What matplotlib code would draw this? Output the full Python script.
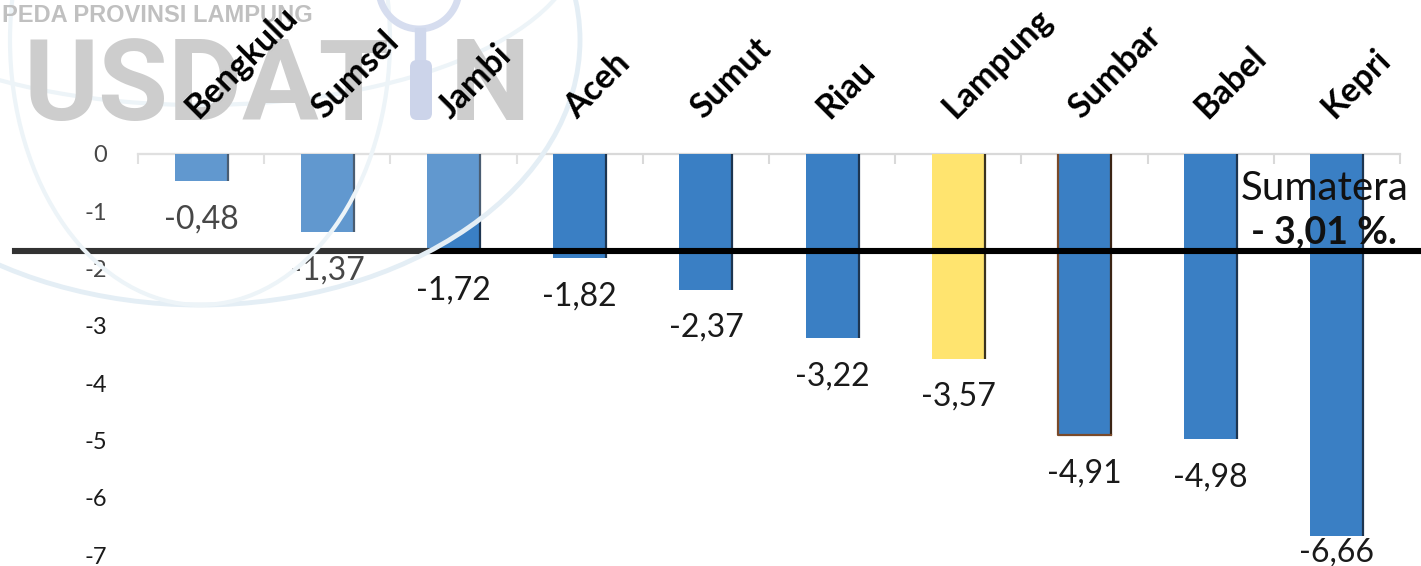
import matplotlib
matplotlib.use('Agg')
import matplotlib.pyplot as plt
import matplotlib.transforms as mtransforms
from matplotlib.patches import Ellipse, Circle, FancyBboxPatch, Rectangle
from matplotlib.lines import Line2D
from matplotlib import font_manager

# Data pertumbuhan ekonomi provinsi di Sumatera (%)
provinsi = ['Bengkulu', 'Sumsel', 'Jambi', 'Aceh', 'Sumut', 'Riau', 'Lampung', 'Sumbar', 'Babel', 'Kepri']
pertumbuhan = [-0.48, -1.37, -1.72, -1.82, -2.37, -3.22, -3.57, -4.91, -4.98, -6.66]
warna = ['#3a7fc4', '#3a7fc4', '#3a7fc4', '#3a7fc4', '#3a7fc4', '#3a7fc4',
         '#ffe46f', '#3a7fc4', '#3a7fc4', '#3a7fc4']
warna_tepi = ['#1d3550', '#1d3550', '#1d3550', '#1d3550', '#1d3550', '#1d3550',
              '#3a3320', '#3b2414', '#1d3550', '#1d3550']
y_ticks = [0, -1, -2, -3, -4, -5, -6, -7]
garis_sumatera = -1.69
teks_sumatera = 'Sumatera'
nilai_sumatera = '- 3,01 %.'

plt.rcParams['font.family'] = ['Lato', 'DejaVu Sans']

W, H = 1421, 566
fig = plt.figure(figsize=(W / 100, H / 100), dpi=100)
ax = fig.add_axes([138 / W, 11 / H, 1262 / W, 401 / H])

x = list(range(len(provinsi)))
bars = ax.bar(x, pertumbuhan, width=0.42, color=warna, edgecolor='none', zorder=2)
# garis tepi kanan batang (lebih gelap)
for p, c in zip(bars, warna_tepi):
    xr = p.get_x() + p.get_width()
    ax.plot([xr, xr], [0, p.get_height()], color=c, lw=1.6, zorder=3, solid_capstyle='butt')
# tepi coklat untuk Sumbar
sb = bars[7]
ax.plot([sb.get_x(), sb.get_x(), sb.get_x() + sb.get_width()],
        [0, sb.get_height(), sb.get_height()], color='#7a4a2a', lw=1.6, zorder=3)

# label nilai di bawah batang
for i, v in enumerate(pertumbuhan):
    off = -38 if i < len(pertumbuhan) - 1 else -17
    ax.annotate(f'{v:.2f}'.replace('.', ','), xy=(i, v), xytext=(0, off),
                textcoords='offset pixels', ha='center', va='center',
                fontsize=23, color='#1a1a1a', zorder=4)

ax.set_xlim(-0.5, len(provinsi) - 0.5)
ax.set_ylim(-7, 0)
ax.set_yticks(y_ticks)
ax.set_yticklabels([str(t) for t in y_ticks])
ax.tick_params(axis='y', length=0, pad=22, labelsize=17, labelcolor='#1a1a1a')
ax.set_xticks([])
ax.set_xticks([i - 0.5 for i in range(len(provinsi) + 1)], minor=True)
ax.tick_params(axis='x', which='minor', length=7, width=1.5, color='#d9d9d9', direction='out')
for s in ['left', 'right', 'top']:
    ax.spines[s].set_visible(False)
ax.spines['bottom'].set_position(('data', 0))
ax.spines['bottom'].set_color('#d9d9d9')
ax.spines['bottom'].set_linewidth(1.6)
ax.spines['bottom'].set_zorder(1)

# garis hitam horizontal
tr_line = mtransforms.blended_transform_factory(fig.transFigure, ax.transData)
fig.add_artist(Line2D([15 / W, 1.0], [garis_sumatera, garis_sumatera], transform=tr_line,
                      color='black', lw=4.4, zorder=1))

# watermark (koordinat piksel gambar)
px = mtransforms.Affine2D().scale(1 / W, -1 / H).translate(0, 1) + fig.transFigure
fig.add_artist(Ellipse((200, 40), 760, 530, transform=px, facecolor='white', alpha=0.2,
                       edgecolor='none', zorder=2))
fig.add_artist(Ellipse((200, 40), 760, 530, transform=px, facecolor='none',
                       edgecolor='#e4eef5', lw=3.5, zorder=2))
fig.add_artist(Ellipse((200, 40), 380, 530, transform=px, facecolor='none',
                       edgecolor='#edf4f8', lw=3, zorder=2))
fig.add_artist(Ellipse((200, -60), 760, 330, transform=px, facecolor='none',
                       edgecolor='#edf4f8', lw=3, zorder=2))

names = {f.name for f in font_manager.fontManager.ttflist}
wm_font = 'Liberation Sans Narrow' if 'Liberation Sans Narrow' in names else 'Roboto'
fig.text(390, 120, 'USDAT', transform=px, ha='right', va='baseline', fontsize=82,
         fontweight='bold', family=[wm_font, 'DejaVu Sans'], color='#cdcdcd', zorder=2)
fig.text(450, 120, 'N', transform=px, ha='left', va='baseline', fontsize=82,
         fontweight='bold', family=[wm_font, 'DejaVu Sans'], color='#cdcdcd', zorder=2)
fig.text(2, 22, 'PEDA PROVINSI LAMPUNG', transform=px, ha='left', va='baseline', fontsize=17,
         fontweight='bold', family=['Liberation Sans', 'DejaVu Sans'], color='#c0c0c0', zorder=2)
fig.add_artist(Circle((419, -11), 40, transform=px, facecolor='none', edgecolor='#d6ddef',
                      lw=5, zorder=2))
fig.add_artist(Rectangle((415, 28), 10, 36, transform=px, color='#d0d8ec', zorder=2))
fig.add_artist(FancyBboxPatch((410, 60), 22, 60, boxstyle='round,pad=0,rounding_size=7',
                              transform=px, facecolor='#ccd4ea', edgecolor='none', zorder=2))

# label kategori miring di atas
for i, nama in enumerate(provinsi):
    tr = mtransforms.offset_copy(ax.transData, fig=fig, x=-3, y=34, units='dots')
    fig.text(i, 0, nama, transform=tr, rotation=45, rotation_mode='anchor', ha='left',
             va='baseline', fontsize=24.5, fontweight='bold', color='black', zorder=5)

fig.text(1325, 188, teks_sumatera, transform=px, ha='center', va='center', fontsize=29,
         color='#111111', zorder=5)
fig.text(1324, 232, nilai_sumatera, transform=px, ha='center', va='center', fontsize=27,
         fontweight='bold', color='#111111', zorder=5)

fig.savefig('out.png', dpi=100)
